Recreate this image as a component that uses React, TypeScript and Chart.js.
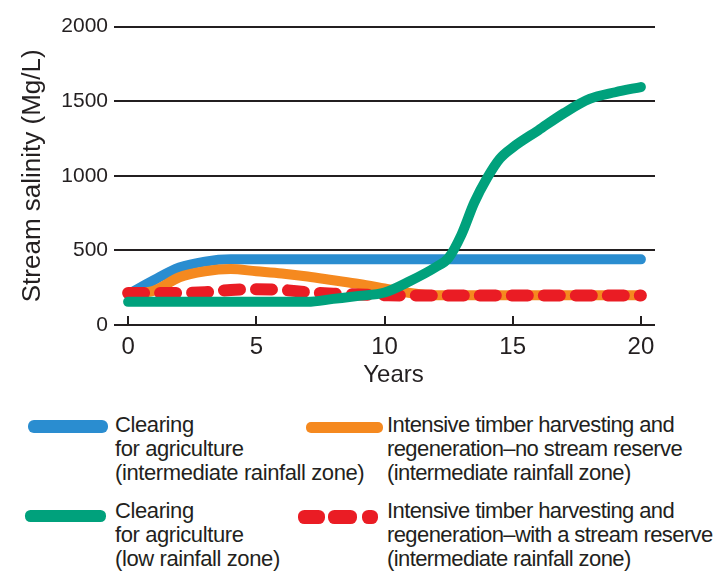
import React, { useEffect, useRef } from "react";
import { Chart, registerables } from "chart.js";

Chart.register(...registerables);

// ---- data ----
const years = [0, 1, 2, 3, 4, 5, 6, 7, 8, 9, 10, 11, 12, 13, 14, 15, 16, 17, 18, 19, 20];
const clearingIntermediate = [205, 300, 385, 425, 440, 440, 440, 440, 440, 440, 440, 440, 440, 440, 440, 440, 440, 440, 440, 440, 440];
const timberNoReserve = [210, 230, 320, 360, 375, 360, 345, 325, 300, 275, 245, 215, 200, 200, 200, 200, 200, 200, 200, 200, 200];
const timberWithReserve = [215, 215, 215, 220, 235, 240, 235, 220, 210, 205, 200, 197, 197, 197, 197, 197, 197, 197, 197, 197, 197];
const lowZoneYears = [0, 1, 2, 3, 4, 5, 6, 7, 8, 9, 10, 11, 12, 12.5, 13, 13.5, 14, 14.5, 15, 16, 17, 18, 19, 20];
const clearingLow = [155, 155, 155, 155, 155, 155, 155, 155, 175, 195, 218, 295, 388, 450, 605, 820, 985, 1115, 1190, 1305, 1420, 1515, 1560, 1595];

const xTickValues = [0, 5, 10, 15, 20];
const yTickValues = [0, 500, 1000, 1500, 2000];
const xTitle = "Years";
const yTitle = "Stream salinity (Mg/L)";

const legendBlue = ["Clearing", "for agriculture", "(intermediate rainfall zone)"];
const legendOrange = ["Intensive timber harvesting and", "regeneration\u2013no stream reserve", "(intermediate rainfall zone)"];
const legendGreen = ["Clearing", "for agriculture", "(low rainfall zone)"];
const legendRed = ["Intensive timber harvesting and", "regeneration\u2013with a stream reserve", "(intermediate rainfall zone)"];

const BLUE = "#2a8dd0";
const ORANGE = "#f5891f";
const GREEN = "#00a17c";
const RED = "#ea1c24";
const INK = "#231f20";
const FONT = "'Liberation Sans', Arial, Helvetica, sans-serif";

const axisDecor = {
  id: "axisDecor",
  beforeDatasetsDraw(chart: any) {
    const { ctx, scales } = chart;
    const x = scales.x;
    const y = scales.y;
    const y0 = y.getPixelForValue(0);
    ctx.save();
    ctx.strokeStyle = INK;
    ctx.lineWidth = 2;
    xTickValues.forEach((v) => {
      const px = Math.round(x.getPixelForValue(v));
      ctx.beginPath();
      ctx.moveTo(px, y0);
      ctx.lineTo(px, y0 - 9);
      ctx.stroke();
    });
    ctx.restore();
  },
  afterDraw(chart: any) {
    const { ctx, scales } = chart;
    const x = scales.x;
    const y = scales.y;
    ctx.save();
    ctx.fillStyle = INK;
    ctx.font = `24px ${FONT}`;
    ctx.textAlign = "center";
    ctx.textBaseline = "alphabetic";
    ctx.fillText(xTitle, x.getPixelForValue(10.35), y.getPixelForValue(0) + 57);
    ctx.restore();
  },
};

function ChartCanvas() {
  const ref = useRef<HTMLCanvasElement | null>(null);
  useEffect(() => {
    if (!ref.current) return;
    const common = {
      fill: false,
      pointRadius: 0,
      borderCapStyle: "round" as const,
      borderJoinStyle: "round" as const,
      cubicInterpolationMode: "monotone" as const,
    };
    const toPts = (xs: number[], vals: number[]) => xs.map((yr, i) => ({ x: yr, y: vals[i] }));
    const chart = new Chart(ref.current, {
      type: "line",
      data: {
        datasets: [
          { ...common, label: legendGreen.join(" "), data: toPts(lowZoneYears, clearingLow), borderColor: GREEN, borderWidth: 10 },
          {
            ...common,
            label: legendRed.join(" "),
            data: toPts(years, timberWithReserve),
            borderColor: RED,
            borderWidth: 12,
            borderDash: [16, 16],
          },
          { ...common, label: legendOrange.join(" "), data: toPts(years, timberNoReserve), borderColor: ORANGE, borderWidth: 10 },
          { ...common, label: legendBlue.join(" "), data: toPts(years, clearingIntermediate), borderColor: BLUE, borderWidth: 10 },
        ],
      },
      options: {
        animation: false,
        responsive: true,
        maintainAspectRatio: false,
        layout: { padding: { left: 0, top: 13, right: 64, bottom: 0 } },
        plugins: { legend: { display: false }, tooltip: { enabled: false } },
        scales: {
          x: {
            type: "linear",
            min: -0.55,
            max: 20.55,
            afterBuildTicks: (s: any) => {
              s.ticks = xTickValues.map((v) => ({ value: v }));
            },
            afterFit: (s: any) => {
              s.height = 73;
            },
            grid: { display: false, drawTicks: false },
            border: { display: false },
            ticks: {
              padding: 8,
              color: INK,
              font: { family: FONT, size: 24 },
              maxRotation: 0,
              callback: (v: any) => String(v),
            },
          },
          y: {
            type: "linear",
            min: 0,
            max: 2000,
            afterBuildTicks: (s: any) => {
              s.ticks = yTickValues.map((v) => ({ value: v }));
            },
            afterFit: (s: any) => {
              s.width = 106;
            },
            grid: { color: INK, lineWidth: 2, drawTicks: false },
            border: { display: false },
            ticks: {
              padding: 6,
              color: INK,
              font: { family: FONT, size: 21 },
              callback: (v: any) => String(v),
            },
            title: {
              display: true,
              text: yTitle,
              color: INK,
              font: { family: FONT, size: 26 },
              padding: { top: 9, bottom: 0 },
            },
          },
        },
      },
      plugins: [axisDecor],
    });
    return () => chart.destroy();
  }, []);
  return <canvas ref={ref} />;
}

const textBlock = (lines: string[], left: number, top: number, spacing: number) => (
  <div
    style={{
      position: "absolute",
      left,
      top,
      font: `22px ${FONT}`,
      lineHeight: "24px",
      letterSpacing: `${spacing}px`,
      color: INK,
      whiteSpace: "nowrap",
    }}
  >
    {lines.map((l, i) => (
      <div key={i}>{l}</div>
    ))}
  </div>
);

const bar = (left: number, top: number, width: number, height: number, color: string) => (
  <div
    style={{
      position: "absolute",
      left,
      top,
      width,
      height,
      background: color,
      borderRadius: height / 2.2,
    }}
  />
);

export default function App() {
  return (
    <div style={{ position: "relative", width: 711, height: 563 }}>
      <div style={{ position: "absolute", left: 0, top: 0, width: 711, height: 390 }}>
        <ChartCanvas />
      </div>
      {bar(20, 411.5, 80, 13, BLUE)}
      {textBlock(legendBlue, 107, 404.5, -0.4)}
      {bar(298, 413.5, 77, 11, ORANGE)}
      {textBlock(legendOrange, 379, 404.5, -0.6)}
      {bar(17, 502, 81, 12, GREEN)}
      {textBlock(legendGreen, 107, 490.5, -0.4)}
      {bar(290, 502, 27, 14, RED)}
      {bar(320, 502, 29, 14, RED)}
      {bar(354, 502, 16, 14, RED)}
      {textBlock(legendRed, 379, 490.5, -0.6)}
    </div>
  );
}
